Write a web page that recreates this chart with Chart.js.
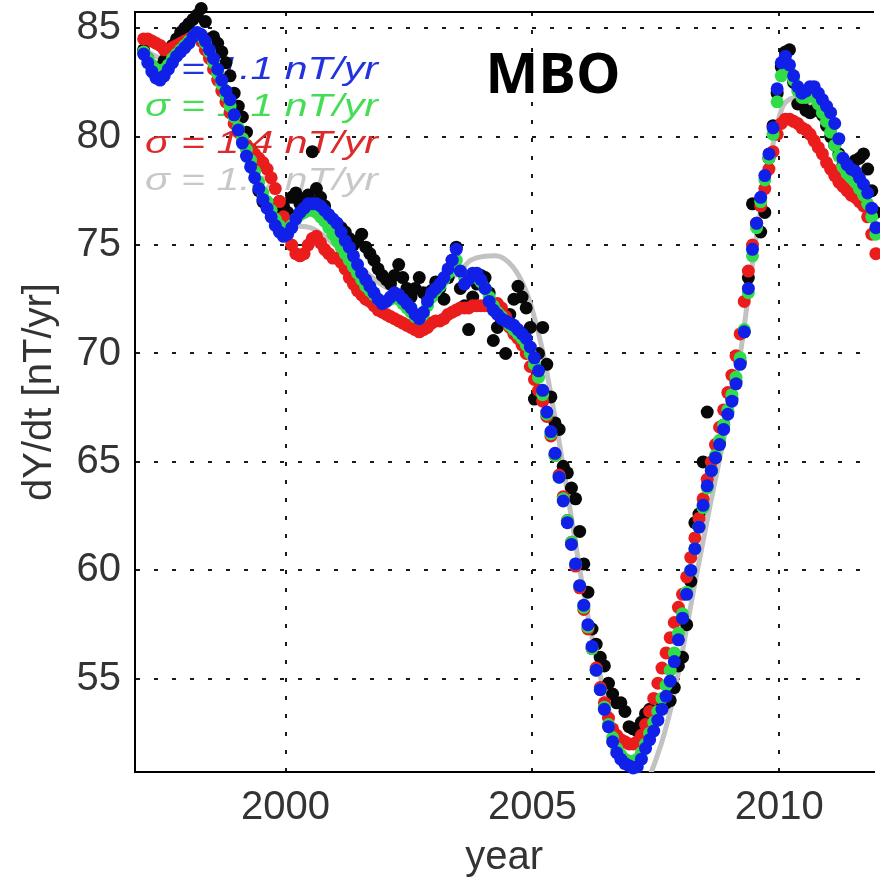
<!DOCTYPE html>
<html>
<head>
<meta charset="utf-8">
<title>MBO dY/dt</title>
<script src="https://cdn.jsdelivr.net/npm/chart.js@4.4.1/dist/chart.umd.min.js"></script>
<style>
  html, body { margin: 0; padding: 0; background: #fff; }
  canvas { display: block; }
</style>
</head>
<body>
<canvas id="chart" width="880" height="878"></canvas>
<script>
// monthly samples, first one is Feb 1997 (mid-month)
const sampleStart = 1997 + 1.5 / 12;

const blueValues = [
    83.8, 83.4, 83.0, 82.7, 82.6, 82.8, 83.1, 83.4, 83.7, 83.9, 84.1,          // 1997
    84.3, 84.6, 84.8, 84.7, 84.4, 84.0, 83.6, 83.1, 82.6, 82.1, 81.7, 81.0,    // 1998
    80.3, 79.7, 79.1, 78.6, 78.1, 77.6, 77.1, 76.7, 76.3, 75.9, 75.6, 75.4,    // 1999
    75.5, 75.8, 76.2, 76.5, 76.7, 76.9, 76.9, 76.9, 76.8, 76.6, 76.4, 76.2,    // 2000
    76.0, 75.6, 75.2, 74.9, 74.5, 74.1, 73.7, 73.4, 73.1, 72.8, 72.5, 72.3,    // 2001
    72.4, 72.6, 72.8, 72.7, 72.5, 72.3, 72.1, 71.8, 71.6, 71.9, 72.4, 72.8,    // 2002
    73.0, 73.2, 73.5, 73.9, 74.3, 74.8, 73.8, 73.2, 73.4, 73.7, 73.7, 73.4,    // 2003
    73.0, 72.4, 72.0, 71.8, 71.6, 71.5, 71.4, 71.3, 71.1, 70.9, 70.7, 70.3,    // 2004
    69.8, 69.2, 68.3, 67.3, 66.4, 65.4, 64.3, 63.2, 62.2, 61.2, 60.3, 59.3,    // 2005
    58.4, 57.5, 56.5, 55.4, 54.5, 53.6, 52.8, 52.1, 51.6, 51.3, 51.1, 51.0,    // 2006
    50.9, 50.95, 51.3, 51.8, 52.2, 52.6, 53.1, 53.6, 54.2, 54.9, 55.8, 56.8,   // 2007
    57.8, 58.9, 60.0, 61.0, 62.0, 63.0, 63.9, 64.6, 65.2, 65.8, 66.5, 67.2,    // 2008
    67.8, 68.6, 69.5, 71.0, 73.0, 74.8, 76.0, 77.2, 78.2, 79.2, 80.4, 82.2,    // 2009
    83.4, 83.7, 83.3, 82.8, 82.3, 82.0, 82.1, 82.3, 82.3, 82.0, 81.7, 81.4,    // 2010
    81.1, 80.6, 79.9, 79.0, 78.7, 78.5, 78.4, 78.1, 77.8, 77.4, 76.7, 75.8     // 2011
];

const greenValues = [
    83.9, 83.6, 83.3, 83.1, 83.0, 83.1, 83.3, 83.6, 83.8, 84.0, 84.2,
    84.4, 84.6, 84.7, 84.6, 84.3, 83.9, 83.4, 82.9, 82.4, 81.9, 81.4, 80.9,
    80.4, 79.9, 79.4, 78.9, 78.4, 77.9, 77.4, 77.0, 76.6, 76.2, 75.9, 75.7,
    75.7, 75.9, 76.2, 76.4, 76.5, 76.6, 76.6, 76.5, 76.3, 76.1, 75.8, 75.5,
    75.2, 74.9, 74.6, 74.3, 74.0, 73.7, 73.4, 73.1, 72.9, 72.7, 72.5, 72.4,
    72.4, 72.5, 72.6, 72.5, 72.3, 72.1, 71.9, 71.7, 71.6, 71.8, 72.2, 72.6,
    72.9, 73.1, 73.4, 73.7, 74.0, 74.3, 73.8, 73.5, 73.5, 73.6, 73.5, 73.3,
    73.0, 72.6, 72.2, 71.9, 71.7, 71.5, 71.3, 71.1, 70.9, 70.7, 70.4, 70.0,
    69.5, 68.9, 68.1, 67.2, 66.3, 65.3, 64.3, 63.3, 62.3, 61.3, 60.3, 59.3,
    58.3, 57.4, 56.4, 55.4, 54.5, 53.7, 52.9, 52.3, 51.8, 51.5, 51.3, 51.2,
    51.2, 51.3, 51.6, 52.0, 52.5, 53.0, 53.5, 54.1, 54.7, 55.4, 56.2, 57.1,
    58.0, 59.0, 60.0, 61.0, 62.0, 62.9, 63.8, 64.6, 65.3, 66.0, 66.7, 67.4,
    68.1, 68.9, 69.8, 71.1, 72.8, 74.5, 75.8, 77.0, 78.0, 79.0, 80.1, 81.6,
    82.8, 83.2, 83.0, 82.6, 82.1, 81.8, 81.8, 81.9, 81.8, 81.5, 81.1, 80.7,
    80.2, 79.6, 79.1, 78.6, 78.3, 78.1, 77.9, 77.6, 77.3, 76.9, 76.3, 75.5
];

const redValues = [
    84.5, 84.5, 84.4, 84.3, 84.2, 84.0, 84.0, 84.1, 84.2, 84.3, 84.4,
    84.5, 84.6, 84.6, 84.4, 84.0, 83.6, 83.1, 82.6, 82.1, 81.6, 81.1, 80.6,
    80.2, 79.9, 79.6, 79.4, 79.2, 79.0, 78.8, 78.5, 78.1, 77.6, 77.0, 76.3,
    75.6, 75.0, 74.6, 74.5, 74.6, 75.0, 75.3, 75.4, 75.1, 74.8, 74.6, 74.4,
    74.4, 74.2, 73.9, 73.5, 73.2, 72.9, 72.7, 72.5, 72.4, 72.2, 72.0, 71.9,
    71.8, 71.7, 71.6, 71.5, 71.4, 71.3, 71.2, 71.1, 71.0, 71.1, 71.2, 71.4,
    71.5, 71.5, 71.6, 71.8, 71.9, 72.0, 72.1, 72.1, 72.1, 72.2, 72.2, 72.2,
    72.2, 72.2, 72.3, 72.3, 72.1, 71.7, 71.2, 70.9, 70.7, 70.4, 70.0, 69.4,
    68.8, 68.3, 67.8, 67.1, 66.2, 65.3, 64.4, 63.4, 62.3, 61.3, 60.2, 59.2,
    58.2, 57.3, 56.4, 55.5, 54.6, 53.9, 53.2, 52.7, 52.4, 52.2, 52.1, 52.0,
    52.0, 52.1, 52.4, 52.9, 53.5, 54.1, 54.8, 55.5, 56.2, 56.9, 57.6, 58.3,
    58.9, 59.7, 60.6, 61.5, 62.4, 63.3, 64.2, 65.0, 65.8, 66.6, 67.4, 68.2,
    69.0, 69.9, 70.9, 72.4, 73.8, 75.0, 76.0, 76.8, 77.6, 78.5, 79.3, 80.1,
    80.6, 80.8, 80.8, 80.7, 80.6, 80.4, 80.3, 80.1, 79.8, 79.5, 79.2, 78.8,
    78.5, 78.2, 77.9, 77.7, 77.5, 77.3, 77.2, 77.0, 76.8, 76.3, 75.5, 74.6
];

// observatory monthly means
const obsValues = [
    84.0, 83.6, 83.2, 83.0, 83.2, 83.5, 83.9, 84.2, 84.5, 84.8, 85.0,
    85.2, 85.4, 85.6, 85.9, 85.3, 84.5, 84.6, 84.3, 83.9, 83.4, 82.8, 82.0,
    81.4, 80.9, 80.2, 79.4, 78.6, 77.5, 77.0, 76.8, 76.5, 76.7, 77.0, 76.8,
    76.5, 77.2, 77.4, 76.9, 77.1, 77.3, 79.3, 77.6, 77.2, 76.8, 76.2, 75.9,
    76.0, 75.8, 75.6, 75.3, 75.0, 75.2, 75.5, 74.9, 74.6, 74.3, 73.9, 73.6,
    73.4, 73.2, 73.6, 74.1, 73.5, 73.0, 72.6, 73.0, 73.5, 72.8, 72.6, 72.9,
    73.3, 73.0, 72.5, 73.5, 74.3, 74.9, 73.0, 72.2, 71.1, 72.6, 73.2, 73.6,
    73.5, 72.8, 70.6, 71.2, 71.5, 70.0, 71.8, 72.5, 73.1, 72.6, 72.1, 71.2,
    67.9, 70.0, 71.2, 69.5, 68.0, 66.8, 66.5, 64.8, 64.5, 63.8, 63.3, 61.8,
    60.3, 59.0, 57.3, 56.6, 56.0, 55.6, 54.8, 54.3, 53.9, 53.9, 53.5, 52.8,
    52.7, 52.6, 53.0, 53.4, 53.6, 53.3, 53.5, 53.8, 53.9, 54.0, 54.6, 55.6,
    56.0, 57.5, 59.5, 62.2, 62.6, 65.0, 67.3, 64.6, 65.2, 65.9, 66.7, 67.3,
    67.9, 68.7, 69.6, 71.0, 73.5, 76.9, 76.0, 75.6, 76.5, 79.0, 80.5, 82.0,
    83.2, 83.9, 84.0, 82.5, 81.5, 81.5, 81.2, 81.1, 81.2, 81.8, 81.0, 80.5,
    80.0, 79.6, 79.2, 78.7, 78.4, 78.5, 78.9, 79.0, 79.2, 78.5, 77.5, 76.5
];

// smooth model
const grayYears = [1997.15, 1997.5, 1998.0, 1998.3, 1998.6, 1999.0, 1999.5, 2000.0, 2000.5, 2001.0,
    2001.5, 2002.0, 2002.5, 2003.0, 2003.5, 2003.75, 2004.25, 2004.6, 2004.85, 2005.0,
    2005.2, 2005.5, 2005.8, 2006.1, 2006.4, 2006.7, 2007.0, 2007.3, 2007.55, 2007.8,
    2008.0, 2008.3, 2008.6, 2008.9, 2009.2, 2009.5, 2009.8, 2010.1, 2010.4, 2010.7,
    2011.0, 2011.3, 2011.6, 2011.9];
const grayValues = [84.0, 83.6, 84.3, 84.6, 83.3, 80.2, 77.6, 76.0, 75.8, 75.0,
    74.0, 73.1, 72.8, 73.1, 73.7, 74.3, 74.5, 74.0, 73.0, 72.0,
    70.2, 66.5, 62.3, 58.2, 54.9, 52.4, 51.0, 50.4, 51.6, 53.6,
    55.8, 59.5, 63.0, 66.3, 69.8, 74.8, 78.8, 81.5, 81.8, 81.2,
    80.2, 78.9, 77.9, 76.0];

const yearTicks = [2000, 2005, 2010];
const valueTicks = [55, 60, 65, 70, 75, 80, 85];

const legendLabels = ['σ = 1.1 nT/yr', 'σ = 1.1 nT/yr', 'σ = 1.4 nT/yr', 'σ = 1.5 nT/yr'];
const legendColors = ['#2233dd', '#44dd55', '#dd2a2a', '#c8c8c8'];

const stationName = 'MBO';

const FONT = '"Liberation Sans", Arial, sans-serif';

function toPoints(values) {
    return values.map((v, i) => ({ x: sampleStart + i / 12, y: v }));
}

function dots(label, values, color) {
    return {
        label: label,
        data: toPoints(values),
        backgroundColor: color,
        borderWidth: 0,
        pointRadius: 6.5,
        pointHoverRadius: 6.5,
        clip: false
    };
}

// colored sigma labels and the station name inside the axes
const panelText = {
    id: 'panelText',
    beforeDatasetsDraw(chart) {
        const { ctx, chartArea } = chart;
        ctx.save();
        ctx.font = 'italic 32px ' + FONT;
        ctx.textBaseline = 'alphabetic';
        legendLabels.forEach((text, i) => {
            const w = ctx.measureText(text).width;
            ctx.save();
            ctx.translate(chartArea.left + 10, chartArea.top + 67 + i * 37);
            ctx.scale(233 / w, 1);
            ctx.fillStyle = legendColors[i];
            ctx.fillText(text, 0, 0);
            ctx.restore();
        });
        ctx.restore();
    },
    afterDatasetsDraw(chart) {
        const { ctx, chartArea } = chart;
        ctx.save();
        ctx.font = 'bold 56px "Open Sans", sans-serif';
        ctx.fillStyle = '#000';
        ctx.textAlign = 'center';
        ctx.textBaseline = 'alphabetic';
        ctx.fillText(stationName, chartArea.left + 418, chartArea.top + 81);
        ctx.restore();
    }
};

const gridStyle = { color: '#1a1a1a', lineWidth: 2, drawTicks: false };
const borderStyle = { display: true, color: '#000', width: 2, dash: [4, 14] };

const ctx = document.getElementById('chart').getContext('2d');
const chart = new Chart(ctx, {
    type: 'scatter',
    data: {
        datasets: [
            dots('blue', blueValues, '#1020e8'),
            dots('green', greenValues, '#30dc48'),
            dots('red', redValues, '#ea1c1c'),
            dots('observed', obsValues, '#080808'),
            {
                type: 'line',
                label: 'model',
                data: grayYears.map((t, i) => ({ x: t, y: grayValues[i] })),
                borderColor: '#c2c2c2',
                borderWidth: 5,
                pointRadius: 0,
                showLine: true,
                fill: false,
                cubicInterpolationMode: 'monotone'
            }
        ]
    },
    options: {
        responsive: false,
        animation: false,
        devicePixelRatio: 1,
        layout: { padding: 0 },
        plugins: {
            legend: { display: false },
            tooltip: { enabled: false }
        },
        scales: {
            x: {
                type: 'linear',
                position: 'bottom',
                min: 1996.95,
                max: 2011.91,
                afterBuildTicks: scale => { scale.ticks = yearTicks.map(v => ({ value: v })); },
                afterFit: scale => {
                    scale.height = 106;
                    scale.paddingLeft = 0;
                    scale.paddingRight = 0;
                },
                ticks: {
                    color: '#333',
                    font: { family: FONT, size: 40 },
                    padding: 12,
                    maxRotation: 0,
                    callback: v => String(v)
                },
                grid: gridStyle,
                border: borderStyle,
                title: {
                    display: true,
                    text: 'year',
                    color: '#333',
                    font: { family: FONT, size: 40, lineHeight: 1 },
                    padding: { top: 0, bottom: 0 }
                }
            },
            x2: {
                type: 'linear',
                position: 'top',
                min: 1996.95,
                max: 2011.91,
                afterFit: scale => {
                    scale.height = 12;
                    scale.paddingLeft = 0;
                    scale.paddingRight = 0;
                },
                ticks: { display: false },
                grid: { display: false, drawTicks: false },
                border: { display: true, color: '#000', width: 2 }
            },
            y: {
                type: 'linear',
                position: 'left',
                min: 50.71,
                max: 85.74,
                afterBuildTicks: scale => { scale.ticks = valueTicks.map(v => ({ value: v })); },
                afterFit: scale => {
                    scale.width = 135;
                    scale.paddingTop = 0;
                    scale.paddingBottom = 0;
                },
                ticks: {
                    color: '#333',
                    font: { family: FONT, size: 40 },
                    padding: 14
                },
                grid: gridStyle,
                border: borderStyle,
                title: {
                    display: true,
                    text: 'dY/dt [nT/yr]',
                    color: '#333',
                    font: { family: FONT, size: 40 },
                    padding: { top: 16, bottom: 0 }
                }
            }
        }
    },
    plugins: [panelText]
});
</script>
</body>
</html>
